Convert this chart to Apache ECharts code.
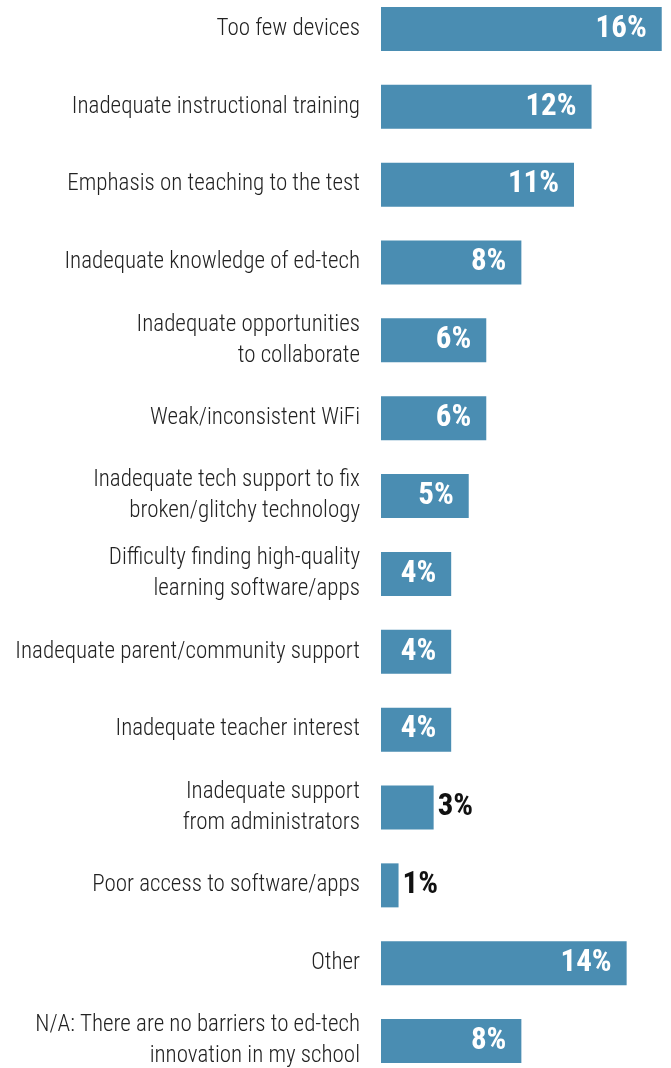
<!DOCTYPE html>
<html>
<head>
<meta charset="utf-8">
<script src="https://cdn.jsdelivr.net/npm/echarts@6/dist/echarts.min.js"></script>
<style>
  html, body { margin: 0; padding: 0; background: #fff; overflow: hidden; }
  /* the plot runs slightly past the page edges so each row gets a full band */
  #chart { width: 671px; height: 1090px; margin-top: -10px; }
</style>
</head>
<body>
<div id="chart"></div>
<script>
// Barriers to ed-tech innovation, share of responses (%)
const categories = [
  'Too few devices',
  'Inadequate instructional training',
  'Emphasis on teaching to the test',
  'Inadequate knowledge of ed-tech',
  'Inadequate opportunities\nto collaborate',
  'Weak/inconsistent WiFi',
  'Inadequate tech support to fix\nbroken/glitchy technology',
  'Difficulty finding high-quality\nlearning software/apps',
  'Inadequate parent/community support',
  'Inadequate teacher interest',
  'Inadequate support\nfrom administrators',
  'Poor access to software/apps',
  'Other',
  'N/A: There are no barriers to ed-tech\ninnovation in my school'
];
const values = [16, 12, 11, 8, 6, 6, 5, 4, 4, 4, 3, 1, 14, 8];

// Short bars carry their label outside, in dark text
const OUTSIDE_BELOW = 4;

const FONT = '"Roboto Condensed", "Liberation Sans Narrow", Roboto, sans-serif';
const BAR = '#4a8db2';

const chart = echarts.init(document.getElementById('chart'), null, { renderer: 'canvas' });

const seriesData = values.map(v => {
  const outside = v < OUTSIDE_BELOW;
  return {
    value: v,
    label: outside
      ? { position: 'right', distance: 4, color: '#111' }
      : { position: 'insideRight', distance: 15, color: '#fff' }
  };
});

chart.setOption({
  animation: false,
  backgroundColor: '#fff',
  grid: { left: 381, right: 4, top: 0, bottom: 0, containLabel: false },
  xAxis: {
    type: 'value',
    min: 0,
    max: 16.3,
    show: false
  },
  yAxis: {
    type: 'category',
    data: categories,
    inverse: true,
    axisLine: { show: false },
    axisTick: { show: false },
    axisLabel: {
      margin: 21,
      fontFamily: FONT,
      fontWeight: 300,
      fontSize: 23,
      color: '#222',
      lineHeight: 31,
      align: 'right'
    }
  },
  series: [{
    type: 'bar',
    data: seriesData,
    barWidth: 44,
    itemStyle: { color: BAR },
    label: {
      show: true,
      formatter: p => p.value + '%',
      fontFamily: FONT,
      fontWeight: 'bold',
      fontSize: 31
    }
  }]
});
</script>
</body>
</html>
